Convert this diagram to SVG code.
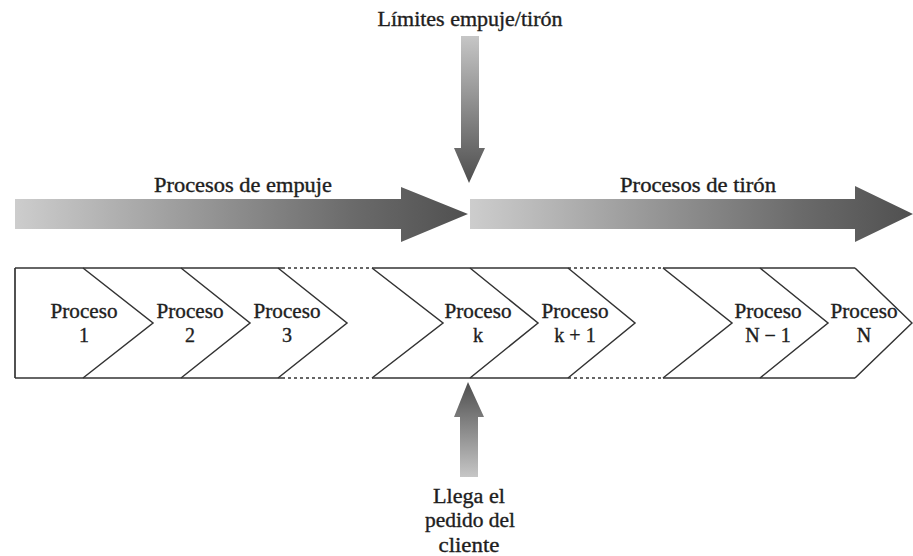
<svg xmlns="http://www.w3.org/2000/svg" width="913" height="556" viewBox="0 0 913 556">
  <style>
    text { font-family: "Liberation Serif", "Times New Roman", serif; font-size: 20px; fill: #1e1e1e; stroke: #1e1e1e; stroke-width: 0.35; text-anchor: middle; }
    .frame { fill: none; stroke: #333333; stroke-width: 1.7; }
    .dots { fill: none; stroke: #333333; stroke-width: 1.7; stroke-dasharray: 3 3; }
    .chev { fill: none; stroke: #333333; stroke-width: 1.5; stroke-linejoin: miter; }
  </style>
  <defs>
    <linearGradient id="gradRight" x1="0" y1="0" x2="1" y2="0">
      <stop offset="0" stop-color="#cdcdcd"/>
      <stop offset="0.75" stop-color="#6a6a6a"/>
      <stop offset="1" stop-color="#505050"/>
    </linearGradient>
    <linearGradient id="gradDown" x1="0" y1="0" x2="0" y2="1">
      <stop offset="0" stop-color="#c6c6c6"/>
      <stop offset="1" stop-color="#4e4e4e"/>
    </linearGradient>
    <linearGradient id="gradUp" x1="0" y1="1" x2="0" y2="0">
      <stop offset="0" stop-color="#c6c6c6"/>
      <stop offset="1" stop-color="#4e4e4e"/>
    </linearGradient>
  </defs>

  <rect width="913" height="556" fill="#ffffff"/>

  <!-- push/pull boundary marker -->
  <g id="boundary">
    <text x="470" y="26" textLength="185" lengthAdjust="spacingAndGlyphs">Límites empuje/tirón</text>
    <polygon points="461,36 479,36 479,148 485,148 469,183 454,148 461,148" fill="url(#gradDown)"/>
  </g>

  <!-- push processes arrow -->
  <g id="push">
    <text x="243" y="192" textLength="178" lengthAdjust="spacingAndGlyphs">Procesos de empuje</text>
    <polygon points="15,199 401,199 401,187 468,214 401,242 401,229 15,229" fill="url(#gradRight)"/>
  </g>

  <!-- pull processes arrow -->
  <g id="pull">
    <text x="698" y="192" textLength="156" lengthAdjust="spacingAndGlyphs">Procesos de tirón</text>
    <polygon points="470,199 855,199 855,186 913,214 855,242 855,229 470,229" fill="url(#gradRight)"/>
  </g>

  <!-- process chain frame -->
  <g id="connectors">
    <line class="frame" x1="15" y1="268" x2="15" y2="378"/>
    <polyline class="frame" points="282,268 15,268"/>
    <polyline class="frame" points="282,378 15,378"/>
    <line class="dots" x1="282" y1="268" x2="372" y2="268"/>
    <line class="dots" x1="282" y1="378" x2="372" y2="378"/>
    <line class="frame" x1="372" y1="268" x2="568" y2="268"/>
    <line class="frame" x1="372" y1="378" x2="568" y2="378"/>
    <line class="dots" x1="568" y1="268" x2="663" y2="268"/>
    <line class="dots" x1="568" y1="378" x2="663" y2="378"/>
    <line class="frame" x1="663" y1="268" x2="855" y2="268"/>
    <line class="frame" x1="663" y1="378" x2="855" y2="378"/>
  </g>

  <g id="proceso-1">
    <polyline class="chev" points="83,268 153,323 83,378"/>
    <text x="84" y="318" textLength="67" lengthAdjust="spacingAndGlyphs">Proceso</text>
    <text x="84" y="342">1</text>
  </g>
  <g id="proceso-2">
    <polyline class="chev" points="181,268 250,323 181,378"/>
    <text x="190" y="318" textLength="67" lengthAdjust="spacingAndGlyphs">Proceso</text>
    <text x="190" y="342">2</text>
  </g>
  <g id="proceso-3">
    <polyline class="chev" points="278,268 347,323 278,378"/>
    <text x="287" y="318" textLength="67" lengthAdjust="spacingAndGlyphs">Proceso</text>
    <text x="287" y="342">3</text>
  </g>
  <g id="gap-1">
    <polyline class="chev" points="372,268 443,323 372,378"/>
  </g>
  <g id="proceso-k">
    <polyline class="chev" points="470,268 538,323 470,378"/>
    <text x="478" y="318" textLength="67" lengthAdjust="spacingAndGlyphs">Proceso</text>
    <text x="478" y="342">k</text>
  </g>
  <g id="proceso-k1">
    <polyline class="chev" points="568,268 635,323 568,378"/>
    <text x="575" y="318" textLength="67" lengthAdjust="spacingAndGlyphs">Proceso</text>
    <text x="575" y="342">k + 1</text>
  </g>
  <g id="gap-2">
    <polyline class="chev" points="663,268 732,323 663,378"/>
  </g>
  <g id="proceso-n1">
    <polyline class="chev" points="760,268 828,323 760,378"/>
    <text x="768" y="318" textLength="67" lengthAdjust="spacingAndGlyphs">Proceso</text>
    <text x="768" y="342">N − 1</text>
  </g>
  <g id="proceso-n">
    <polyline class="chev" points="855,268 912,323 855,378"/>
    <text x="864" y="318" textLength="67" lengthAdjust="spacingAndGlyphs">Proceso</text>
    <text x="864" y="342">N</text>
  </g>

  <!-- customer order arrival -->
  <g id="order">
    <polygon points="468,382 484,417 478,417 478,477 460,477 460,417 454,417" fill="url(#gradUp)"/>
    <text x="469" y="503" textLength="72" lengthAdjust="spacingAndGlyphs">Llega el</text>
    <text x="470" y="527" textLength="90" lengthAdjust="spacingAndGlyphs">pedido del</text>
    <text x="469" y="552" textLength="61" lengthAdjust="spacingAndGlyphs">cliente</text>
  </g>
</svg>
